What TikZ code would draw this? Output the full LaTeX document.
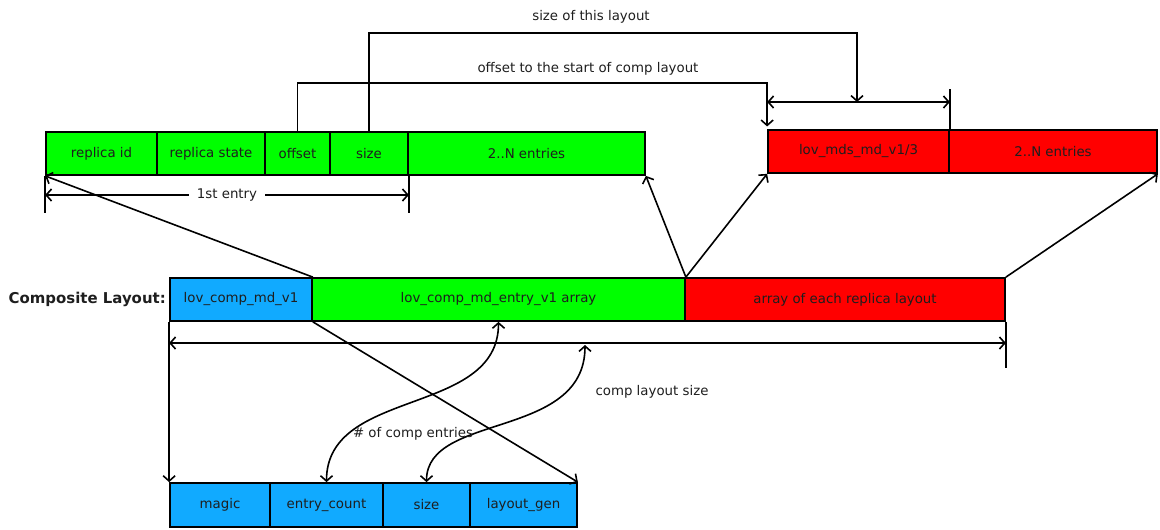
\documentclass[tikz,border=0pt]{standalone}
\usepackage{fontspec}
\setmainfont{DejaVu Sans}
\usetikzlibrary{arrows.meta,calc}
\definecolor{cgreen}{RGB}{0,255,0}
\definecolor{cred}{RGB}{255,0,0}
\definecolor{cblue}{RGB}{17,170,255}
\definecolor{txt}{RGB}{30,30,30}
\newcommand\cellbox[7]{\node[cellst,fill=#7,minimum width={(#4-#2)*0.75pt},minimum height={(#5-#3)*0.75pt}] (#1) at ({(#2+#4)/2},{(#3+#5)/2}) {#6};}
\begin{document}
\begin{tikzpicture}[x=0.75pt,y=-0.75pt,
  cellst/.style={draw,line width=1.3pt,inner sep=0pt,text=txt,font=\fontsize{10}{12}\selectfont},
  conn/.style={line width=1.2pt,-{Straight Barb[length=4pt,width=9pt,line width=1.2pt]}},
  dconn/.style={line width=1.2pt,{Straight Barb[length=4pt,width=9pt,line width=1.2pt]}-{Straight Barb[length=4pt,width=9pt,line width=1.2pt]}},
  plain/.style={line width=1.2pt},
  lbl/.style={font=\fontsize{10}{12}\selectfont,text=txt,inner sep=1pt}]
\useasboundingbox (0,0) rectangle (1160,529);
% top green row
\cellbox{rid}{46}{132}{157}{175}{replica id}{cgreen}
\cellbox{rst}{157}{132}{265}{175}{replica state}{cgreen}
\cellbox{off}{265}{132}{330}{175}{offset}{cgreen}
\cellbox{sz}{330}{132}{408}{175}{size}{cgreen}
\cellbox{ent}{408}{132}{645}{175}{2..N entries}{cgreen}
% top red row
\cellbox{mds}{768}{130}{949}{173}{lov\_mds\_md\_v1/3}{cred}
\cellbox{ent2}{949}{130}{1157}{173}{2..N entries}{cred}
% composite row
\cellbox{cb}{170}{278}{312}{321}{lov\_comp\_md\_v1}{cblue}
\cellbox{cg}{312}{278}{685}{321}{lov\_comp\_md\_entry\_v1 array}{cgreen}
\cellbox{cr}{685}{278}{1005}{321}{array of each replica layout}{cred}
\node[anchor=east,font=\bfseries\fontsize{11.2}{13}\selectfont,text=txt,inner sep=0pt] (clabel) at (166,299.5) {Composite Layout:};
% bottom row
\cellbox{mg}{170}{483}{270}{527}{magic}{cblue}
\cellbox{ec}{270}{483}{383}{527}{entry\_count}{cblue}
\cellbox{bs}{383}{483}{470}{527}{size}{cblue}
\cellbox{lg}{470}{483}{577}{527}{layout\_gen}{cblue}
% top labels
\node[lbl] (lsize) at (591,17) {size of this layout};
\node[lbl] (loff) at (588,69) {offset to the start of comp layout};
% 1st entry dimension
\coordinate (t1) at (rid.south west |- 0,213);
\coordinate (t2) at (sz.south east |- 0,213);
\draw[plain] (rid.south west) -- (t1);
\draw[plain] (sz.south east) -- (t2);
\coordinate (e1) at (rid.south west |- 0,195);
\coordinate (e2) at (sz.south east |- 0,195);
\draw[dconn] (e1) -- (e2);
\node[lbl,fill=white,inner xsep=6pt] (l1st) at ($(e1)!0.5!(e2)$) {1st entry};
% dimension above red
\coordinate (r1) at (mds.north west |- 0,102);
\coordinate (r2) at (mds.north east |- 0,102);
\coordinate (rt) at (mds.north east |- 0,89);
\draw[plain] (mds.north east) -- (rt);
\draw[dconn] (r1) -- (r2);
\coordinate (rmid) at (857,102);
% offset connector
\draw[conn] (off.north) -- (off.north |- 0,83) -- (mds.north west |- 0,83) -- ([yshift=2pt]mds.north west);
% size connector
\draw[conn] (sz.north) -- (sz.north |- 0,33) -- (rmid |- 0,33) -- (rmid);
% diagonals
\draw[conn] (cb.north east) -- (rid.south west);
\draw[conn] (cb.south east) -- (lg.north east);
\draw[conn] (cg.north east) -- (ent.south east);
\draw[conn] (cg.north east) -- (mds.south west);
\draw[conn] (cr.north east) -- (ent2.south east);
% big dimension
\coordinate (b1) at (cb.south west |- 0,343);
\coordinate (b2) at (cr.south east |- 0,343);
\coordinate (bt) at (cr.south east |- 0,368);
\draw[plain] (cr.south east) -- (bt);
\draw[dconn] (b1) -- (b2);
\draw[conn] (cb.south west) -- (mg.north west);
% curves
\coordinate (cls) at (585,345);
\draw[dconn] (cg.south) .. controls +(0,95) and +(0,-95) .. (ec.north);
\draw[dconn] (cls) .. controls +(0,95) and +(0,-70) .. (bs.north);
\node[lbl] (lcount) at (413,434) {\# of comp entries};
\node[lbl] (lcls) at (652,392) {comp layout size};
\end{tikzpicture}
\end{document}
